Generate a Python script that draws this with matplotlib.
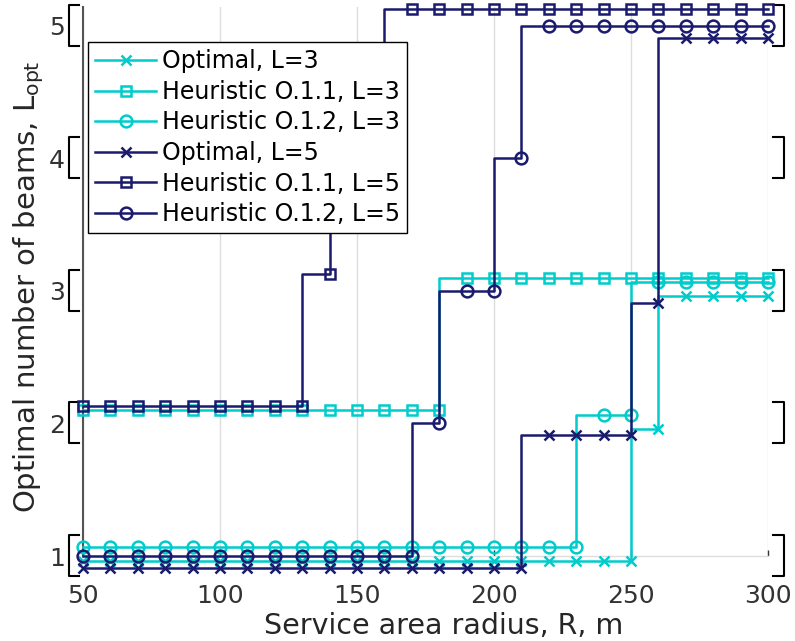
import matplotlib
matplotlib.use("Agg")
import matplotlib.pyplot as plt
import matplotlib.transforms as mtransforms

# --- data ---
radius = [50, 60, 70, 80, 90, 100, 110, 120, 130, 140, 150, 160, 170,
          180, 190, 200, 210, 220, 230, 240, 250, 260, 270, 280, 290, 300]

opt_L3 = [1, 1, 1, 1, 1, 1, 1, 1, 1, 1, 1, 1, 1,
          1, 1, 1, 1, 1, 1, 1, 1, 2, 3, 3, 3, 3]
h11_L3 = [2, 2, 2, 2, 2, 2, 2, 2, 2, 2, 2, 2, 2,
          2, 3, 3, 3, 3, 3, 3, 3, 3, 3, 3, 3, 3]
h12_L3 = [1, 1, 1, 1, 1, 1, 1, 1, 1, 1, 1, 1, 1,
          1, 1, 1, 1, 1, 1, 2, 2, 3, 3, 3, 3, 3]
opt_L5 = [1, 1, 1, 1, 1, 1, 1, 1, 1, 1, 1, 1, 1,
          1, 1, 1, 1, 2, 2, 2, 2, 3, 5, 5, 5, 5]
h11_L5 = [2, 2, 2, 2, 2, 2, 2, 2, 2, 3, 4, 4, 5,
          5, 5, 5, 5, 5, 5, 5, 5, 5, 5, 5, 5, 5]
h12_L5 = [1, 1, 1, 1, 1, 1, 1, 1, 1, 1, 1, 1, 1,
          2, 3, 3, 4, 5, 5, 5, 5, 5, 5, 5, 5, 5]

labels = ['Optimal, L=3', 'Heuristic O.1.1, L=3', 'Heuristic O.1.2, L=3',
          'Optimal, L=5', 'Heuristic O.1.1, L=5', 'Heuristic O.1.2, L=5']
levels = [1, 2, 3, 4, 5]
x_ticks = [50, 100, 150, 200, 250, 300]

# --- style ---
CYAN = '#00CCCC'
NAVY = '#1A1A6E'
# small vertical shift per series so overlapping steps stay readable
series = [
    (opt_L3, CYAN, 'x', 6.5, -0.04),
    (h11_L3, CYAN, 's', 7.5, 0.10),
    (h12_L3, CYAN, 'o', 8.5, 0.065),
    (opt_L5, NAVY, 'x', 6.5, -0.09),
    (h11_L5, NAVY, 's', 7.5, 0.13),
    (h12_L5, NAVY, 'o', 8.5, 0.0),
]

fig = plt.figure(figsize=(7.95, 6.41), dpi=100)
ax = fig.add_axes([0.1044, 0.1326, 0.8616, 0.8565])

for (vals, col, mk, ms, off), lab in zip(series, labels):
    ax.plot(radius, [v + off for v in vals], drawstyle='steps-pre',
            color=col, lw=1.8, marker=mk, ms=ms, mfc='none', mec=col, mew=1.8,
            label=lab, clip_on=False, zorder=3)

ax.set_xlim(50, 300)
ax.set_ylim(1.0, 5.143)
ax.set_xticks(x_ticks)
ax.set_yticks(levels)
ax.tick_params(axis='x', direction='in', length=4, width=1, colors='#333333',
               labelsize=18, pad=20)
ax.tick_params(axis='y', length=0, labelsize=18, pad=13, colors='#333333')
ax.grid(True, axis='x', color='#dddddd', lw=1, zorder=0)

for s in ['top', 'right']:
    ax.spines[s].set_visible(False)
ax.spines['left'].set_color('#555555')
ax.spines['left'].set_linewidth(1.5)
ax.spines['bottom'].set_color('#dddddd')
ax.spines['bottom'].set_linewidth(1)

# brackets around each level cluster
trans = mtransforms.blended_transform_factory(ax.transAxes, ax.transData)
for lv in levels:
    y0, y1 = lv - 0.15, lv + 0.16
    ax.plot([-0.0058, -0.0204, -0.0204, -0.0058], [y1, y1, y0, y0],
            color='black', lw=1.5, transform=trans, clip_on=False)
    ax.plot([1.007, 1.0234, 1.0234, 1.007], [y1, y1, y0, y0],
            color='black', lw=1.5, transform=trans, clip_on=False)

ax.set_xlabel('Service area radius, R, m', fontsize=20.5, color='#262626', labelpad=3)
ax.xaxis.label.set_x(0.527)
ax.set_ylabel(r'Optimal number of beams, $\mathregular{L_{opt}}$', fontsize=21,
              color='#262626', labelpad=2)
ax.yaxis.label.set_y(0.49)

leg = ax.legend(loc='upper left', bbox_to_anchor=(0.007, 0.936), borderaxespad=0,
                fontsize=17, handlelength=2.6, handletextpad=0.25,
                labelspacing=0.28, borderpad=0.3, fancybox=False, framealpha=1)
leg.get_frame().set_edgecolor('black')
leg.get_frame().set_linewidth(1)

fig.savefig('out.png', dpi=100)
